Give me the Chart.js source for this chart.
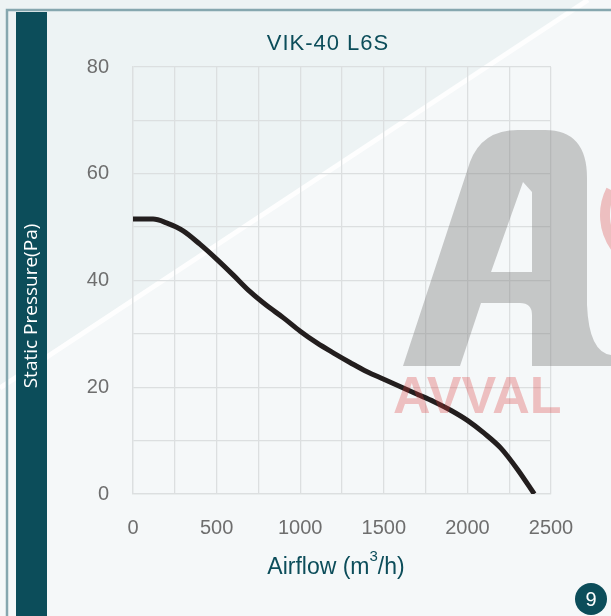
<!DOCTYPE html>
<html>
<head>
<meta charset="utf-8">
<script src="https://cdn.jsdelivr.net/npm/chart.js@4"></script>
<style>
  html, body { margin: 0; padding: 0; background: #f1f6f7; }
  canvas { display: block; }
</style>
</head>
<body>
<canvas id="fanChart" width="611" height="616"></canvas>
<script>
// curve
var airflow = [0, 120, 200, 300, 400, 500, 600, 700, 800, 900, 1000, 1100, 1200, 1300, 1400, 1500, 1600, 1700, 1800, 1900, 2000, 2100, 2200, 2300, 2400];
var pressure = [51.5, 51.5, 50.8, 49.3, 46.8, 44.0, 41.0, 37.9, 35.3, 33.0, 30.5, 28.3, 26.4, 24.6, 22.9, 21.5, 20.1, 18.7, 17.3, 15.7, 13.8, 11.4, 8.6, 4.6, 0];
var xTicks = [0, 500, 1000, 1500, 2000, 2500];
var yTicks = [0, 20, 40, 60, 80];

var chartTitle = 'VIK-40 L6S';
var yTitle = 'Static Pressure(Pa)';
var pageNo = '9';

var teal = '#0c4d5a';

// page background, frame, side bar, titles and watermark
var pageDecor = {
    id: 'pageDecor',
    beforeDraw: function (chart) {
        var ctx = chart.ctx;
        ctx.save();
        ctx.fillStyle = '#f5f8f9';
        ctx.fillRect(0, 0, 611, 616);
        // upper-left tinted triangle
        ctx.fillStyle = '#edf3f4';
        ctx.beginPath();
        ctx.moveTo(0, 0);
        ctx.lineTo(585, 0);
        ctx.lineTo(0, 385);
        ctx.closePath();
        ctx.fill();
        // white diagonal stroke
        ctx.strokeStyle = 'rgba(255,255,255,0.85)';
        ctx.lineWidth = 5;
        ctx.beginPath();
        ctx.moveTo(588, 0);
        ctx.lineTo(0, 388);
        ctx.stroke();
        // frame
        ctx.strokeStyle = '#86a7af';
        ctx.lineWidth = 2.5;
        ctx.beginPath();
        ctx.moveTo(7, 616);
        ctx.lineTo(7, 10);
        ctx.lineTo(611, 10);
        ctx.stroke();
        // side bar
        ctx.fillStyle = teal;
        ctx.fillRect(16, 12, 31, 604);
        ctx.fillStyle = '#ffffff';
        ctx.font = '19px "Open Sans"';
        ctx.textAlign = 'center';
        ctx.textBaseline = 'middle';
        ctx.translate(32, 306);
        ctx.rotate(-Math.PI / 2);
        ctx.fillText(yTitle, 0, 0);
        ctx.restore();

        ctx.save();
        // chart title
        ctx.fillStyle = teal;
        ctx.font = '22px "Liberation Sans"';
        ctx.letterSpacing = '1px';
        ctx.textAlign = 'center';
        ctx.textBaseline = 'middle';
        ctx.fillText(chartTitle, 328, 44);
        ctx.letterSpacing = '0px';
        // x-axis title with superscript
        ctx.textAlign = 'left';
        var a = 'Airflow (m', b = '/h)';
        ctx.font = '23px "Liberation Sans"';
        var wa = ctx.measureText(a).width;
        var wb = ctx.measureText(b).width;
        ctx.font = '15px "Liberation Sans"';
        var ws = ctx.measureText('3').width;
        var x0 = 336 - (wa + ws + wb) / 2;
        ctx.font = '23px "Liberation Sans"';
        ctx.fillText(a, x0, 568);
        ctx.fillText(b, x0 + wa + ws, 568);
        ctx.font = '15px "Liberation Sans"';
        ctx.fillText('3', x0 + wa, 557);
        // page number
        ctx.fillStyle = teal;
        ctx.beginPath();
        ctx.arc(591, 599, 16, 0, Math.PI * 2);
        ctx.fill();
        ctx.fillStyle = '#ffffff';
        ctx.font = '20px "Liberation Sans"';
        ctx.textAlign = 'center';
        ctx.fillText(pageNo, 591, 600);
        ctx.restore();
    },
    afterDraw: function (chart) {
        var ctx = chart.ctx;
        ctx.save();
        // grey logo letter
        ctx.fillStyle = 'rgba(125,125,125,0.4)';
        ctx.beginPath();
        ctx.moveTo(403, 366);
        ctx.lineTo(470, 162);
        ctx.quadraticCurveTo(482, 130, 518, 130);
        ctx.lineTo(545, 130);
        ctx.quadraticCurveTo(587, 130, 587, 178);
        ctx.lineTo(587, 305);
        ctx.quadraticCurveTo(589, 352, 611, 355);
        ctx.lineTo(611, 366);
        ctx.lineTo(532, 366);
        ctx.lineTo(532, 315);
        ctx.quadraticCurveTo(532, 303, 520, 303);
        ctx.lineTo(481, 303);
        ctx.lineTo(460, 366);
        ctx.closePath();
        ctx.moveTo(523, 182);
        ctx.lineTo(532, 192);
        ctx.lineTo(532, 272);
        ctx.lineTo(491, 272);
        ctx.closePath();
        ctx.fill('evenodd');
        // red logo text
        ctx.fillStyle = 'rgba(220,60,60,0.3)';
        ctx.font = 'bold 52px "Liberation Sans"';
        ctx.textAlign = 'left';
        ctx.textBaseline = 'alphabetic';
        ctx.fillText('AVVAL', 393, 413);
        ctx.strokeStyle = 'rgba(220,60,60,0.3)';
        ctx.lineWidth = 10;
        ctx.beginPath();
        ctx.arc(660, 215, 55, Math.PI * 0.8, Math.PI * 1.15);
        ctx.stroke();
        ctx.restore();
    }
};

var ctxFan = document.getElementById('fanChart').getContext('2d');
new Chart(ctxFan, {
    type: 'line',
    data: {
        datasets: [{
            label: chartTitle,
            data: airflow.map(function (v, i) { return { x: v, y: pressure[i] }; }),
            borderColor: '#231e1e',
            borderWidth: 5,
            pointRadius: 0,
            cubicInterpolationMode: 'monotone',
            fill: false
        }]
    },
    options: {
        responsive: false,
        animation: false,
        layout: { padding: { left: 0, top: 67, right: 60, bottom: 0 } },
        plugins: {
            legend: { display: false },
            title: { display: false },
            tooltip: { enabled: false }
        },
        scales: {
            x: {
                type: 'linear',
                min: 0,
                max: 2500,
                ticks: {
                    stepSize: 250,
                    padding: 22,
                    autoSkip: false,
                    maxRotation: 0,
                    minRotation: 0,
                    color: '#6e6e6e',
                    font: { family: 'Liberation Sans', size: 20 },
                    callback: function (v) { return xTicks.indexOf(v) >= 0 ? v : ''; }
                },
                grid: { color: '#dcdfe0', lineWidth: 1.3, drawTicks: false },
                border: { color: '#dcdfe0', width: 1.3 },
                afterFit: function (scale) { scale.height = 122; }
            },
            y: {
                min: 0,
                max: 80,
                ticks: {
                    stepSize: 10,
                    padding: 24,
                    color: '#6e6e6e',
                    font: { family: 'Liberation Sans', size: 20 },
                    callback: function (v) { return yTicks.indexOf(v) >= 0 ? v : ''; }
                },
                grid: { color: '#dcdfe0', lineWidth: 1.3, drawTicks: false },
                border: { color: '#dcdfe0', width: 1.3 },
                afterFit: function (scale) { scale.width = 133; }
            }
        }
    },
    plugins: [pageDecor]
});
</script>
</body>
</html>
